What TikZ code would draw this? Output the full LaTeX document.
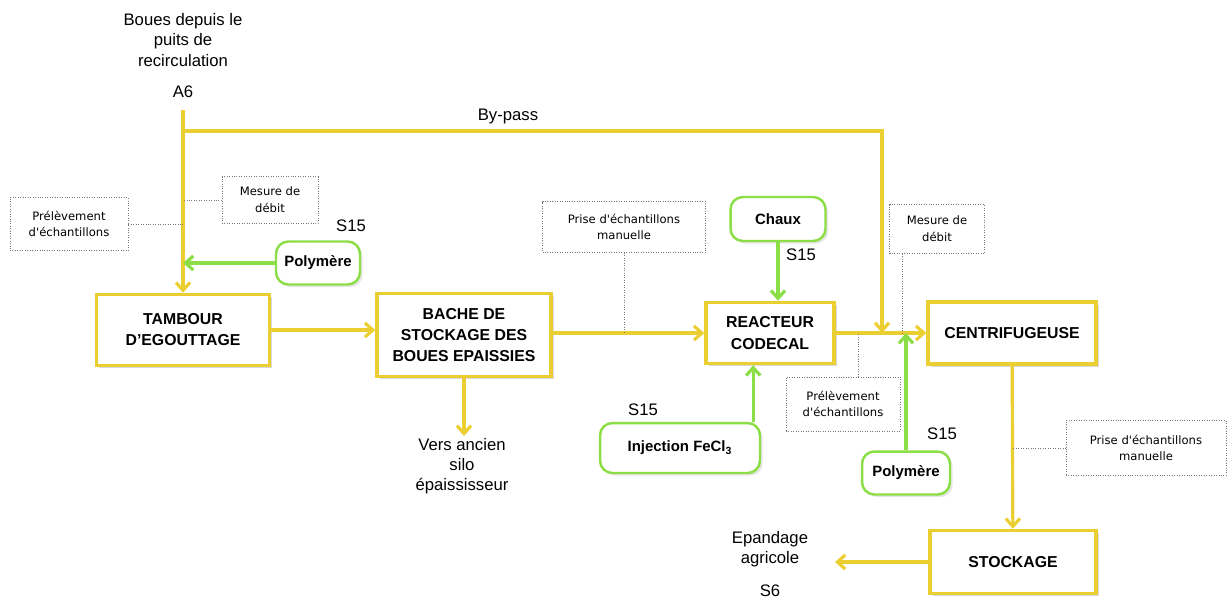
\documentclass[tikz,border=0pt]{standalone}
\usepackage{fontspec}
\setmainfont{Liberation Sans}
\newfontfamily\petite{DejaVu Sans}
\usetikzlibrary{positioning, arrows.meta, shadows}
\definecolor{jaune}{RGB}{235,207,50}
\definecolor{vert}{RGB}{140,222,70}
\definecolor{pointille}{RGB}{120,120,120}

\begin{document}
\begin{tikzpicture}[x=0.02cm, y=-0.02cm, >={Straight Barb[length=4.5pt, width=8pt]},
    bloc/.style={draw=jaune, line width=2pt, fill=white, align=center,
        font=\fontsize{9}{12}\selectfont\bfseries,
        drop shadow={opacity=0.3, shadow xshift=1.5pt, shadow yshift=-1.5pt}},
    ajout/.style={draw=vert, line width=1.4pt, rounded corners=7pt, fill=white,
        align=center, font=\fontsize{8.5}{10}\selectfont\bfseries,
        drop shadow={opacity=0.2, shadow xshift=1.5pt, shadow yshift=-1.5pt}},
    mesure/.style={draw=pointille, densely dotted, align=center,
        font=\petite\fontsize{6.6}{9.5}\selectfont},
    texte/.style={align=center, font=\fontsize{9.5}{11.5}\selectfont},
    flux/.style={draw=jaune, line width=1.8pt},
    dose/.style={draw=vert, line width=1.8pt},
    lien/.style={draw=pointille, densely dotted}]

    \useasboundingbox (0,0) rectangle (1229,600);

    % filiere principale
    \node[bloc, minimum width=3.46cm, minimum height=1.42cm] (tambour) at (183,330) {TAMBOUR\\D'EGOUTTAGE};
    \node[bloc, minimum width=3.48cm, minimum height=1.66cm] (bache) at (464,335) {BACHE DE\\STOCKAGE DES\\BOUES EPAISSIES};
    \node[bloc, minimum width=2.56cm, minimum height=1.22cm] (reacteur) at (770,333) {REACTEUR\\CODECAL};
    \node[bloc, minimum width=3.36cm, minimum height=1.24cm] (centri) at (1012,333) {CENTRIFUGEUSE};
    \node[bloc, minimum width=3.32cm, minimum height=1.26cm] (stock) at (1013,562) {STOCKAGE};

    % reactifs
    \node[ajout, minimum width=1.68cm, minimum height=0.86cm] (polyA) at (318,263) {Polymère};
    \node[ajout, minimum width=1.9cm, minimum height=0.88cm] (chaux) at (778,219) {Chaux};
    \node[ajout, minimum width=3.2cm, minimum height=1.0cm] (fecl) at (680,448) {Injection FeCl\textsubscript{3}};
    \node[ajout, minimum width=1.76cm, minimum height=0.86cm] (polyB) at (906,473) {Polymère};

    % points de mesure
    \node[mesure, minimum width=2.36cm, minimum height=1.06cm] (prelA) at (69,224) {Prélèvement\\d'échantillons};
    \node[mesure, minimum width=1.92cm, minimum height=0.94cm] (mesA) at (270,200) {Mesure de\\débit};
    \node[mesure, minimum width=3.26cm, minimum height=1.02cm] (priseA) at (624,227) {Prise d'échantillons\\manuelle};
    \node[mesure, minimum width=1.9cm, minimum height=0.98cm] (mesB) at (937,229) {Mesure de\\débit};
    \node[mesure, minimum width=2.28cm, minimum height=1.08cm] (prelB) at (843,404) {Prélèvement\\d'échantillons};
    \node[mesure, minimum width=3.2cm, minimum height=1.1cm] (priseB) at (1146,448) {Prise d'échantillons\\manuelle};

    % textes
    \node[texte] (source) at (183,40) {Boues depuis le\\puits de\\recirculation};
    \node[texte] (a6) at (183,92) {A6};
    \node[texte] (bypass) at (508,116) {By-pass};
    \node[texte, inner sep=1pt] (silo) at (462,466) {Vers ancien\\silo\\épaississeur};
    \node[texte] (epandage) at (770,549) {Epandage\\agricole};
    \node[texte] (s6) at (770,591) {S6};
    \node[texte] (sA) at (351,226) {S15};
    \node[texte] (sB) at (801,255) {S15};
    \node[texte] (sC) at (643,410) {S15};
    \node[texte] (sD) at (942,434) {S15};

    \coordinate (depart) at (183,110);
    \coordinate (derivation) at (183,131);
    \coordinate (retour) at (882,333);
    \coordinate (sortie) at (835,562);

    % boues
    \draw[flux,->] (depart) -- (tambour);
    \draw[flux,->] (derivation) -| (retour);
    \draw[flux,->] (tambour.east) -- (tambour.east -| bache.west);
    \draw[flux,->] (bache.east |- reacteur) -- (reacteur.west);
    \draw[flux,->] (bache.south) -- (bache.south |- silo.north);
    \draw[flux,->] (reacteur) -- (centri);
    \draw[flux,->] (centri) -- (stock);
    \draw[flux,->] (stock.west) -- (sortie);

    % injections
    \draw[dose,->] (polyA.west) -- (polyA.west -| tambour.north);
    \draw[dose,->] (chaux.south) -- (chaux.south |- reacteur.north);
    \draw[dose,->] ([xshift=-0.16cm]fecl.north east) -- ([xshift=-0.16cm]fecl.north east |- reacteur.south);
    \draw[dose,->] (polyB.north) -- (polyB.north |- reacteur.east);

    % piquages
    \draw[lien] (prelA.east) -- (prelA.east -| tambour.north);
    \draw[lien] (mesA.west) -- (mesA.west -| tambour.north);
    \draw[lien] (priseA.south) -- (priseA.south |- reacteur.west);
    \draw[lien] ([xshift=0.26cm]mesB.south west) -- ([xshift=0.26cm]mesB.south west |- reacteur.east);
    \draw[lien] ([xshift=0.3cm]prelB.north) -- ([xshift=0.3cm]prelB.north |- reacteur.east);
    \draw[lien] (priseB.west) -- (priseB.west -| stock.north);
\end{tikzpicture}
\end{document}
